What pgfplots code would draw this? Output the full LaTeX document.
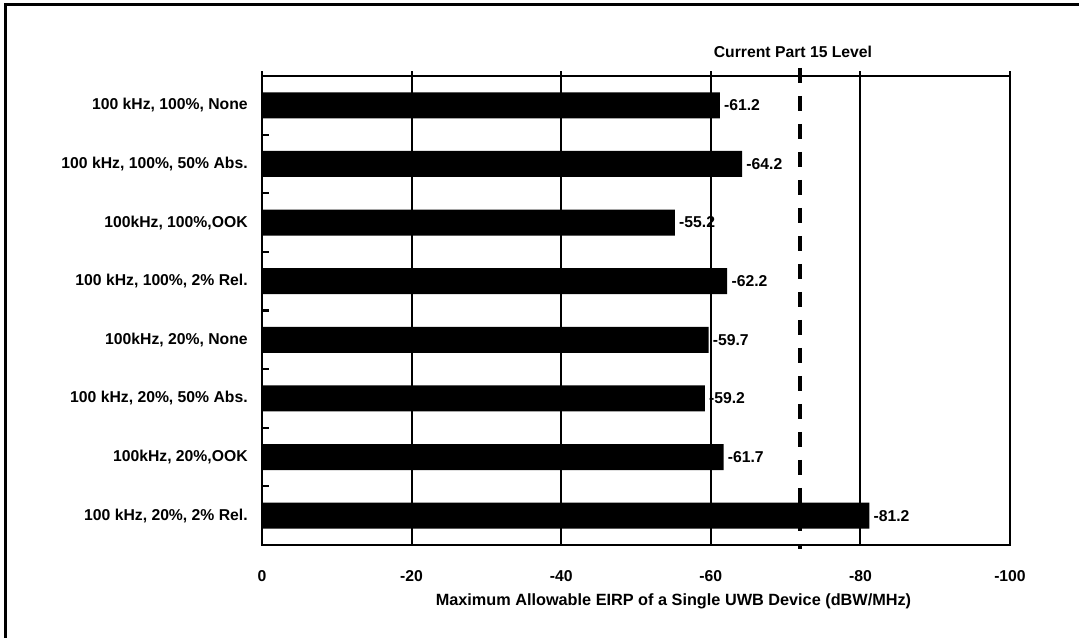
\documentclass[border=0pt]{standalone}
\usepackage{fontspec}
\setmainfont{Liberation Sans}
\usepackage{pgfplots}
\pgfplotsset{compat=1.18}
\usepackage{pgfplotstable}
\newcommand{\lbl}{\bfseries\fontsize{11.8}{14}\selectfont}
\pgfplotstableread{
idx val lab
0 -61.2 -61.2
1 -64.2 -64.2
2 -55.2 -55.2
3 -62.2 -62.2
4 -59.7 -59.7
5 -59.2 -59.2
6 -61.7 -61.7
7 -81.2 -81.2
}\data
\begin{document}
\begin{tikzpicture}[font=\lbl]
\useasboundingbox (0,0) rectangle (809.25pt,-478.5pt);
\draw[line width=2.25pt, line join=miter] (3.75pt,-480pt) -- (3.75pt,-3.25pt) -- (812pt,-3.25pt);
\begin{axis}[
  at={(477pt,-232.875pt)}, anchor=center,
  width=561pt, height=351.75pt, scale only axis,
  xmin=-100, xmax=0, x dir=reverse,
  ymin=-0.5, ymax=7.5, y dir=reverse,
  axis line style={line width=1.8pt, black},
  xtick={-100,-80,-60,-40,-20,0},
  xticklabels={-100,-80,-60,-40,-20,0},
  xtick pos=right, xticklabel pos=left,
  xtick align=outside,
  major tick length=3.75pt,
  minor tick length=5.25pt,
  xmajorgrids,
  major grid style={line width=1.6pt, black},
  ytick={0,...,7},
  yticklabels={{100 kHz, 100\%, None},{100 kHz, 100\%, 50\% Abs.},{100kHz, 100\%,OOK},{100 kHz, 100\%, 2\% Rel.},{100kHz, 20\%, None},{100 kHz, 20\%, 50\% Abs.},{100kHz, 20\%,OOK},{100 kHz, 20\%, 2\% Rel.}},
  major y tick style={draw=none},
  minor ytick={0.5,1.5,2.5,3.5,4.5,5.5,6.5},
  ytick pos=left,
  ytick align=inside,
  tick style={black, line width=1.6pt},
  yticklabel style={anchor=east, inner sep=0pt, xshift=-10.5pt, font=\lbl},
  xticklabel style={anchor=center, inner sep=0pt, yshift=-19.5pt, font=\lbl},
  clip=false,
]
\addplot[xbar, bar width=19.5pt, fill=black, draw=none,
  nodes near coords, point meta=explicit symbolic,
  nodes near coords style={anchor=west, inner sep=0pt, xshift=3pt, font=\lbl}]
  table[x=val, y=idx, meta=lab] {\data};
\addplot[black, line width=3pt, dash pattern=on 11.25pt off 9.75pt]
  coordinates {(-71.9,-0.637) (-71.9,7.568)};
\end{axis}
\node[font=\lbl] at (594.75pt,-39pt) {Current Part 15 Level};
\node[font=\bfseries\fontsize{12.2}{14}\selectfont] at (505.1pt,-451.3pt) {Maximum Allowable EIRP of a Single UWB Device (dBW/MHz)};
\end{tikzpicture}
\end{document}
